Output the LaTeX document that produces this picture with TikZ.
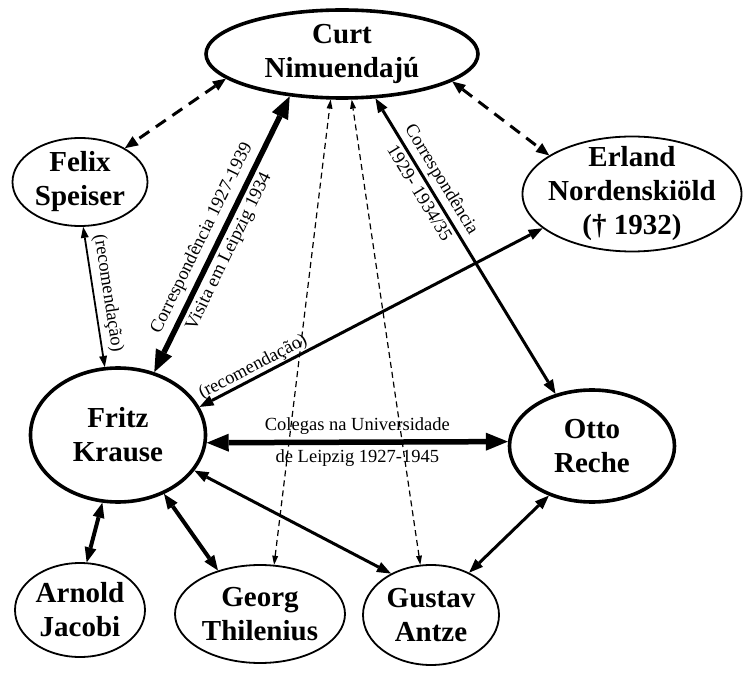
\documentclass[tikz,border=0pt]{standalone}
\usepackage{fontspec}
\setmainfont{Liberation Serif}
\usetikzlibrary{shapes.geometric,arrows.meta}
\begin{document}
\begin{tikzpicture}[x=1pt,y=-1pt,
  pers/.style={ellipse,draw,line width=1.8pt,inner sep=0pt},
  keyp/.style={pers,line width=3.6pt},
  ptext/.style={align=center,inner sep=0pt,font=\fontsize{29}{34}\selectfont\bfseries},
  lbl/.style={font=\fontsize{18.5}{20}\selectfont,inner sep=3.5pt},
  bigE/.style={line width=5.5pt,{Triangle[length=22pt,width=18pt,line width=0pt]}-{Triangle[length=22pt,width=18pt,line width=0pt]}},
  medE/.style={line width=3pt,{Triangle[length=14pt,width=11pt,line width=0pt]}-{Triangle[length=14pt,width=11pt,line width=0pt]}},
  strongE/.style={line width=4pt,{Triangle[length=15pt,width=12pt,line width=0pt]}-{Triangle[length=15pt,width=12pt,line width=0pt]}},
  thinE/.style={line width=1.8pt,{Triangle[length=11pt,width=8pt,line width=0pt]}-{Triangle[length=11pt,width=8pt,line width=0pt]}},
  dashB/.style={line width=3pt,dash pattern=on 12pt off 8pt,{Triangle[length=13pt,width=11pt,line width=0pt]}-{Triangle[length=13pt,width=11pt,line width=0pt]}},
  dashT/.style={line width=1.2pt,dash pattern=on 6pt off 4pt,{Triangle[length=9pt,width=6pt,line width=0pt]}-{Triangle[length=9pt,width=6pt,line width=0pt]}}
]
\fill[white] (0,0) rectangle (750,676);
\useasboundingbox (0,0) rectangle (750,676);

% person ellipses
\node[keyp,minimum width=272pt,minimum height=88pt] (curt) at (342,54) {};
\node[pers,minimum width=135pt,minimum height=88pt] (felix) at (80,182) {};
\node[pers,minimum width=219pt,minimum height=115pt] (erland) at (632,194) {};
\node[keyp,minimum width=175pt,minimum height=134pt] (krause) at (118,435) {};
\node[keyp,minimum width=165pt,minimum height=112pt] (reche) at (592,446) {};
\node[pers,minimum width=130pt,minimum height=94pt] (jacobi) at (80,610) {};
\node[pers,minimum width=170pt,minimum height=98pt] (thilenius) at (260,614) {};
\node[pers,minimum width=136pt,minimum height=100pt] (antze) at (431,615) {};

% texts
\node[ptext] (curtT) at (curt) {Curt\\Nimuendajú};
\node[ptext] (felixT) at (felix) {Felix\\Speiser};
\node[ptext] (erlandT) at (erland) {Erland\\Nordenskiöld\\(† 1932)};
\node[ptext] (krauseT) at (krause) {Fritz\\Krause};
\node[ptext] (recheT) at (reche) {Otto\\Reche};
\node[ptext] (jacobiT) at (jacobi) {Arnold\\Jacobi};
\node[ptext] (thileniusT) at (thilenius) {Georg\\Thilenius};
\node[ptext] (antzeT) at (antze) {Gustav\\Antze};

% connectors
\draw[dashB] (curt.192) -- (felix.37);
\draw[dashB] (curt.-14) -- (erland.155);
\draw[dashT] (thilenius.74) -- (curt.256);
\draw[dashT] (antze.102) -- (curt.282);

\draw[bigE] (krause.60) -- (curt.219)
  node[lbl,sloped,above,pos=0.46,inner sep=5pt] (l1) {Correspondência 1927-1939}
  node[lbl,sloped,below,pos=0.46,inner sep=3.5pt] (l2) {Visita em Leipzig 1934};

\draw[medE] (curt.-53) -- (reche.125)
  node[lbl,sloped,above,pos=0.3] (l3) {Correspondência}
  node[lbl,sloped,below,pos=0.3] (l4) {1929- 1934/35};

\draw[thinE] (felix.274) -- (krause.101)
  node[lbl,sloped,above,pos=0.49,inner sep=5pt] (l5) {(recomendação)};

\draw[medE] (krause.19) -- (erland.201)
  node[lbl,sloped,above,pos=0.17,inner sep=0.5pt] (l6) {(recomendação)};

\draw[bigE] (krause.-5) -- (reche.177)
  node[lbl,above,midway,inner sep=5pt] (l7) {Colegas na Universidade}
  node[lbl,below,midway,inner sep=5pt] (l8) {de Leipzig 1927-1945};

\draw[medE] (krause.-25) -- (antze.134);
\draw[medE] (reche.229) -- (antze.48);
\draw[strongE] (krause.257) -- (jacobi.82);
\draw[strongE] (krause.-52) -- (thilenius.134);
\end{tikzpicture}
\end{document}
